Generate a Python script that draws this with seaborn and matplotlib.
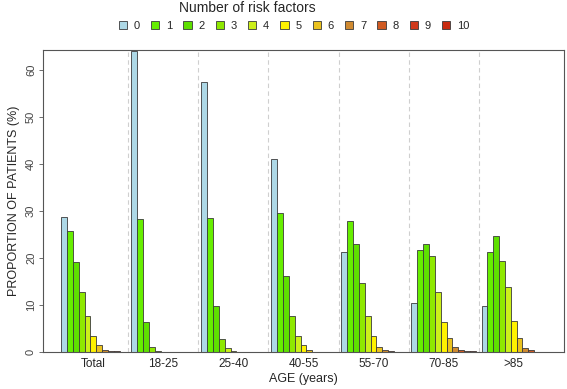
import matplotlib
matplotlib.use("Agg")
import matplotlib.pyplot as plt
import numpy as np
import pandas as pd
import seaborn as sns

# ---- data ----
age_groups = ["Total", "18-25", "25-40", "40-55", "55-70", "70-85", ">85"]
risk_factors = ["0", "1", "2", "3", "4", "5", "6", "7", "8", "9", "10"]

total = [28.7, 25.8, 19.1, 12.8, 7.6, 3.5, 1.4, 0.5, 0.3, 0.2, 0.1]
age_18_25 = [64.0, 28.4, 6.4, 1.1, 0.3, 0.05, 0.0, 0.0, 0.0, 0.0, 0.0]
age_25_40 = [57.4, 28.5, 9.7, 2.7, 0.9, 0.3, 0.1, 0.0, 0.0, 0.0, 0.0]
age_40_55 = [41.1, 29.6, 16.1, 7.6, 3.5, 1.4, 0.4, 0.1, 0.0, 0.0, 0.0]
age_55_70 = [21.3, 27.9, 23.0, 14.6, 7.7, 3.5, 1.0, 0.4, 0.3, 0.1, 0.0]
age_70_85 = [10.5, 21.8, 23.1, 20.5, 12.8, 6.3, 3.0, 1.1, 0.4, 0.3, 0.2]
age_85_up = [9.8, 21.2, 24.8, 19.4, 13.8, 6.6, 2.9, 0.8, 0.4, 0.1, 0.0]

series = [total, age_18_25, age_25_40, age_40_55, age_55_70, age_70_85, age_85_up]

colors = ["#add8e6", "#66ee00", "#5ee000", "#8ee800", "#ccf01a", "#fff200",
          "#ebc21e", "#d08a30", "#d05a22", "#d03a1c", "#c82a10"]

rows = []
for grp, vals in zip(age_groups, series):
    for rf, v in zip(risk_factors, vals):
        rows.append({"age": grp, "factor": rf, "value": v})
df = pd.DataFrame(rows)

sns.set_style("white")
plt.rcParams["font.family"] = ["Liberation Sans", "DejaVu Sans"]

fig = plt.figure(figsize=(5.67, 3.89), dpi=100)
ax = fig.add_axes([0.0758, 0.095, 0.919, 0.7765])

sns.barplot(data=df, x="age", y="value", hue="factor", order=age_groups,
            hue_order=risk_factors, palette=colors, saturation=1,
            width=11 / 12, gap=0, edgecolor="#3a3a3a", linewidth=0.6, ax=ax)

for i in range(1, len(age_groups)):
    ax.axvline(i - 0.5, color="#cfcfcf", linestyle=(0, (4, 3)), lw=0.8, zorder=0)

ax.set_xlim(-0.72, 6.72)
ax.set_ylim(0, 64.3)
ax.set_yticks(np.arange(0, 61, 10))
ax.tick_params(axis="y", left=True, length=3, width=0.6, color="#555555",
               labelsize=8, labelcolor="#444444", pad=2)
for lbl in ax.get_yticklabels():
    lbl.set_rotation(90)
    lbl.set_va("center")
ax.tick_params(axis="x", bottom=False, labelsize=8.5, pad=1)
for s in ax.spines.values():
    s.set_visible(True)
    s.set_color("#555555")
    s.set_linewidth(0.8)

ax.set_xlabel("AGE (years)", fontsize=9, labelpad=2)
ax.set_ylabel("PROPORTION OF PATIENTS (%)", fontsize=9, labelpad=4)

sns.move_legend(ax, "center", bbox_to_anchor=(294 / 567, 1 - 26 / 389),
                bbox_transform=fig.transFigure, ncol=11, title=None,
                frameon=False, fontsize=8, handlelength=0.75, handleheight=0.75,
                handletextpad=0.6, columnspacing=1.0, borderpad=0)
fig.text(247 / 567, 1 - 8 / 389, "Number of risk factors", ha="center",
         va="center", fontsize=10)

fig.savefig("out.png", dpi=100)
